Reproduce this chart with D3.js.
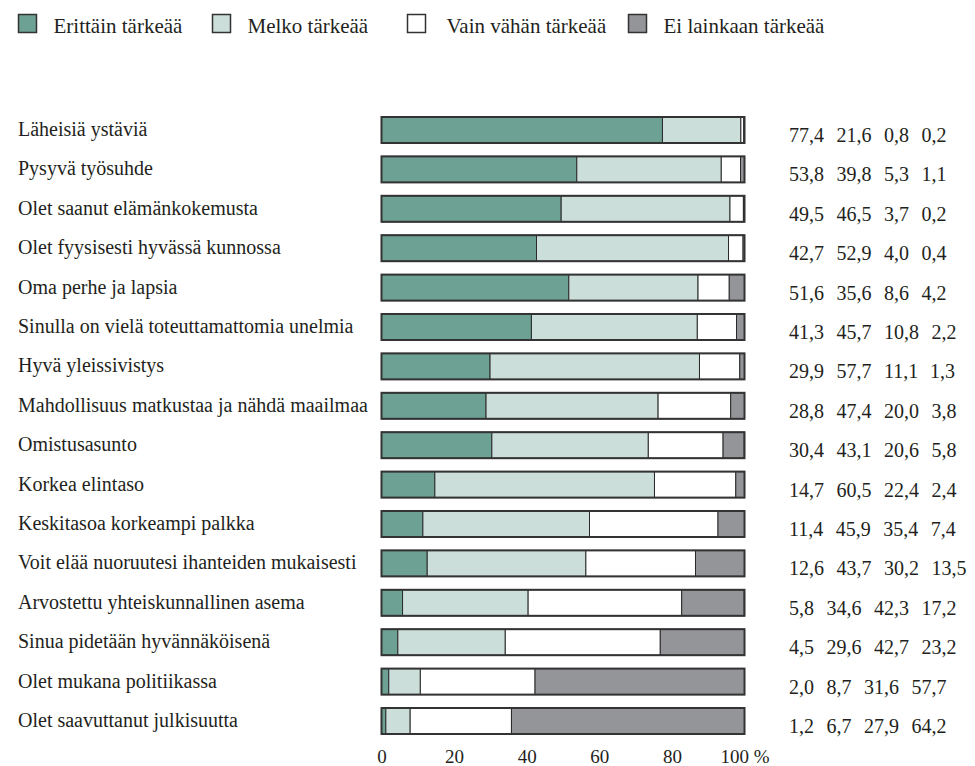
<!DOCTYPE html>
<html lang="fi">
<head>
<meta charset="utf-8">
<script src="https://cdn.jsdelivr.net/npm/d3@7"></script>
<style>
  html, body { margin: 0; padding: 0; background: #fff; }
  svg { display: block; font-family: "Liberation Serif", "DejaVu Serif", serif; }
  text { fill: #231f20; }
</style>
</head>
<body>
<svg id="chart" width="975" height="766"></svg>
<script>
// Vastausluokat ja niiden värit
const seriesNames = ["Erittäin tärkeää", "Melko tärkeää", "Vain vähän tärkeää", "Ei lainkaan tärkeää"];
const seriesColors = ["#6ca194", "#cbdeda", "#ffffff", "#949599"];

// Kysytyt asiat
const categories = [
  "Läheisiä ystäviä",
  "Pysyvä työsuhde",
  "Olet saanut elämänkokemusta",
  "Olet fyysisesti hyvässä kunnossa",
  "Oma perhe ja lapsia",
  "Sinulla on vielä toteuttamattomia unelmia",
  "Hyvä yleissivistys",
  "Mahdollisuus matkustaa ja nähdä maailmaa",
  "Omistusasunto",
  "Korkea elintaso",
  "Keskitasoa korkeampi palkka",
  "Voit elää nuoruutesi ihanteiden mukaisesti",
  "Arvostettu yhteiskunnallinen asema",
  "Sinua pidetään hyvännäköisenä",
  "Olet mukana politiikassa",
  "Olet saavuttanut julkisuutta"
];

// Osuudet (%) vastausluokittain
const veryImportant   = [77.4, 53.8, 49.5, 42.7, 51.6, 41.3, 29.9, 28.8, 30.4, 14.7, 11.4, 12.6, 5.8, 4.5, 2.0, 1.2];
const fairlyImportant = [21.6, 39.8, 46.5, 52.9, 35.6, 45.7, 57.7, 47.4, 43.1, 60.5, 45.9, 43.7, 34.6, 29.6, 8.7, 6.7];
const slightlyImportant = [0.8, 5.3, 3.7, 4.0, 8.6, 10.8, 11.1, 20.0, 20.6, 22.4, 35.4, 30.2, 42.3, 42.7, 31.6, 27.9];
const notImportant    = [0.2, 1.1, 0.2, 0.4, 4.2, 2.2, 1.3, 3.8, 5.8, 2.4, 7.4, 13.5, 17.2, 23.2, 57.7, 64.2];

// Akselin jakoviivojen arvot
const tickValues = [0, 20, 40, 60, 80, 100];

const keys = ["k0", "k1", "k2", "k3"];
const rows = categories.map((c, i) => ({
  category: c,
  k0: veryImportant[i],
  k1: fairlyImportant[i],
  k2: slightlyImportant[i],
  k3: notImportant[i]
}));

const svg = d3.select("#chart");

const x = d3.scaleLinear().domain([0, 100]).range([381.5, 744.5]);
const y = d3.scaleBand().domain(categories).range([117, 734]).paddingInner(0.34).paddingOuter(0);
const color = d3.scaleOrdinal().domain(keys).range(seriesColors);

const stacked = d3.stack().keys(keys)(rows);

// Pinotut palkit
const layers = svg.append("g").selectAll("g")
  .data(stacked)
  .join("g")
  .attr("fill", d => color(d.key));

layers.selectAll("rect")
  .data(d => d)
  .join("rect")
  .attr("x", d => x(d[0]))
  .attr("y", d => y(d.data.category))
  .attr("width", d => Math.max(0, x(Math.min(d[1], 100)) - x(d[0])))
  .attr("height", y.bandwidth())
  .attr("stroke", "#2a2a2a")
  .attr("stroke-width", 1);

// Palkkien ääriviivat
svg.append("g").selectAll("rect")
  .data(rows)
  .join("rect")
  .attr("x", x(0))
  .attr("y", d => y(d.category))
  .attr("width", x(100) - x(0))
  .attr("height", y.bandwidth())
  .attr("fill", "none")
  .attr("stroke", "#333")
  .attr("stroke-width", 2);

// Kysymysten nimet vasemmalla
svg.append("g").selectAll("text")
  .data(rows)
  .join("text")
  .attr("x", 18)
  .attr("y", d => y(d.category) + y.bandwidth() / 2 + 6)
  .attr("font-size", 20)
  .text(d => d.category);

// Prosenttiluvut oikealla
const fmt = v => d3.format(".1f")(v).replace(".", ",");
const valueText = svg.append("g").selectAll("text")
  .data(rows)
  .join("text")
  .attr("x", 789)
  .attr("y", d => y(d.category) + y.bandwidth() / 2 + 12)
  .attr("font-size", 20);

valueText.selectAll("tspan")
  .data(d => keys.map(k => d[k]))
  .join("tspan")
  .attr("dx", (d, i) => i === 0 ? 0 : 12.5)
  .text(d => fmt(d));

// Vaaka-akseli
const axis = d3.axisBottom(x)
  .tickValues(tickValues)
  .tickSize(0)
  .tickFormat(d => d === 100 ? "100 %" : d);

const axisG = svg.append("g")
  .attr("transform", "translate(0,763)")
  .call(axis);
axisG.select(".domain").remove();
axisG.selectAll("text")
  .attr("y", 0)
  .attr("dy", null)
  .attr("font-size", 19)
  .attr("font-family", "Liberation Serif, serif")
  .attr("fill", "#231f20");

// Selite
const legendX = [18.5, 212.5, 407.5, 628.5];
const legend = svg.append("g").selectAll("g")
  .data(seriesNames)
  .join("g")
  .attr("transform", (d, i) => `translate(${legendX[i]},14.5)`);

legend.append("rect")
  .attr("width", 18)
  .attr("height", 18)
  .attr("fill", (d, i) => seriesColors[i])
  .attr("stroke", "#333")
  .attr("stroke-width", 1.5);

legend.append("text")
  .attr("x", (d, i) => i === 2 ? 39 : 35)
  .attr("y", 18.5)
  .attr("font-size", 21)
  .text(d => d);
</script>
</body>
</html>
